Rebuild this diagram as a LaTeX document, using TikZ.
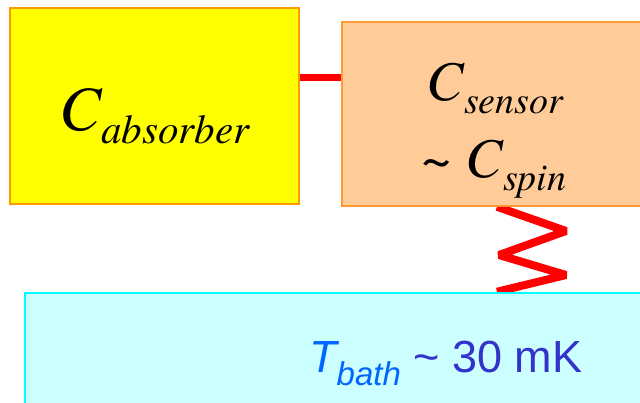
\documentclass[tikz,border=0pt]{standalone}
\usepackage{fontspec}
\setsansfont{Liberation Sans}
\newfontfamily\capfont{TeX Gyre Termes}
\usetikzlibrary{backgrounds}
\definecolor{absyellow}{HTML}{FFFF00}
\definecolor{absorange}{HTML}{FF9900}
\definecolor{senspeach}{HTML}{FFCC99}
\definecolor{sensorange}{HTML}{FF9933}
\definecolor{bathcyan}{HTML}{CCFFFF}
\definecolor{bathedge}{HTML}{00FFFF}
\definecolor{tblue}{HTML}{0066FF}
\definecolor{mkblue}{HTML}{3333CC}
\newcommand{\lowsub}[2]{\raisebox{-13pt}{\fontsize{#1}{#1}\selectfont #2}}
\tikzset{
  box/.style={rectangle,inner sep=0pt,line width=1.5pt},
  link/.style={red,line width=7pt},
  spring/.style={red,line width=8pt,line join=bevel},
  caplabel/.style={inner sep=0pt}
}
\begin{document}
\begin{tikzpicture}[x=1pt,y=-1pt]
  \useasboundingbox (0,0) rectangle (640,402);
  \clip (0,0) rectangle (640,402);

  % Boxes
  \node[box,fill=absyellow,draw=absorange,minimum width=289pt,minimum height=196pt]
    (absorber) at (154.5,106) {};
  \node[box,fill=senspeach,draw=sensorange,minimum width=304pt,minimum height=184pt]
    (sensor) at (494,114) {};
  \node[box,fill=bathcyan,draw=bathedge,line width=2.5pt,minimum width=846pt,minimum height=137pt]
    (bath) at (448,361.5) {};

  % Thermal links
  \coordinate (lnk) at (320,77);
  \draw[link] (absorber.east |- lnk) -- (sensor.west |- lnk);
  \coordinate (spr) at (497,0);
  \begin{pgfonlayer}{background}
    \draw[spring] (sensor.south -| spr) -- (566,231) -- (499,255) -- (566,275)
      -- (bath.north -| spr);
  \end{pgfonlayer}

  % Labels
  \node[caplabel,anchor=base west,font=\capfont\fontsize{63}{63}\selectfont\itshape]
    (cabs) at (59,130) {C\lowsub{41}{absorber}};
  \node[caplabel,anchor=base,font=\capfont\fontsize{56}{56}\selectfont\itshape]
    (csens) at (495,100) {C\lowsub{38}{sensor}};
  \node[caplabel,anchor=base,font=\capfont\fontsize{56}{56}\selectfont\itshape]
    (cspin) at (494,177) {\textasciitilde{} C\lowsub{38}{spin}};
  \node[caplabel,anchor=base west,font=\sffamily\fontsize{45}{45}\selectfont]
    (tbath) at (309,372)
    {\textcolor{tblue}{\itshape T\lowsub{33}{bath}} \textcolor{mkblue}{\textasciitilde{} 30 mK}};
\end{tikzpicture}
\end{document}
